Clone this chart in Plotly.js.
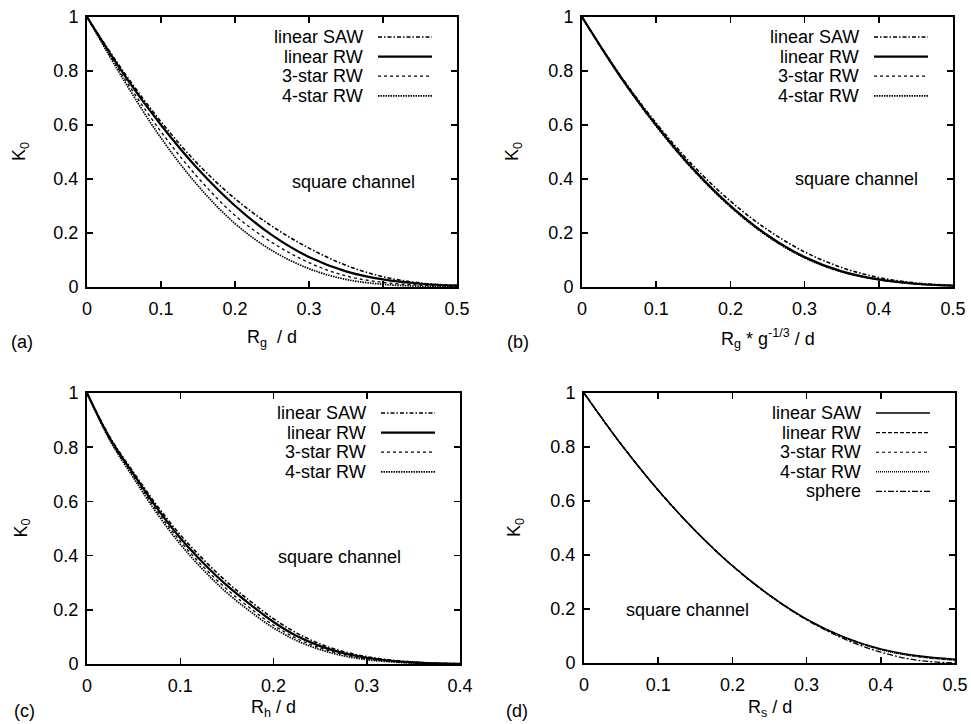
<!DOCTYPE html>
<html>
<head>
<meta charset="utf-8">
<script src="https://cdn.plot.ly/plotly-3.0.1.min.js"></script>
<style>html,body{margin:0;padding:0;background:#fff;}#plot{width:971px;height:724px;}</style>
</head>
<body>
<div id="plot"></div>
<script>
// ---------- data ----------
const seriesNames4 = ["linear SAW", "linear RW", "3-star RW", "4-star RW"];
const seriesNames5 = ["linear SAW", "linear RW", "3-star RW", "4-star RW", "sphere"];

// panel (a): K0 vs Rg/d
const xA = [0, 0.05, 0.1, 0.15, 0.2, 0.25, 0.3, 0.35, 0.4, 0.45, 0.5];
const aSAW   = [1, 0.795, 0.612, 0.455, 0.327, 0.225, 0.144, 0.080, 0.038, 0.015, 0.006];
const aRW    = [1, 0.787, 0.600, 0.437, 0.301, 0.192, 0.111, 0.058, 0.028, 0.012, 0.005];
const a3star = [1, 0.775, 0.575, 0.405, 0.265, 0.165, 0.090, 0.041, 0.017, 0.007, 0.002];
const a4star = [1, 0.765, 0.552, 0.375, 0.235, 0.135, 0.068, 0.028, 0.010, 0.003, 0.001];

// panel (b): K0 vs Rg*g^-1/3/d
const xB = [0, 0.05, 0.1, 0.15, 0.2, 0.25, 0.3, 0.35, 0.4, 0.45, 0.5];
const bSAW   = [1, 0.790, 0.607, 0.449, 0.318, 0.212, 0.130, 0.072, 0.035, 0.015, 0.006];
const bRW    = [1, 0.787, 0.600, 0.437, 0.301, 0.192, 0.111, 0.058, 0.028, 0.012, 0.005];
const b3star = [1, 0.785, 0.597, 0.434, 0.298, 0.189, 0.109, 0.057, 0.027, 0.012, 0.005];
const b4star = [1, 0.784, 0.596, 0.433, 0.297, 0.188, 0.108, 0.056, 0.027, 0.011, 0.004];

// panel (c): K0 vs Rh/d
const xC = [0, 0.025, 0.05, 0.075, 0.1, 0.125, 0.15, 0.175, 0.2, 0.225, 0.25, 0.275, 0.3, 0.325, 0.35, 0.375, 0.4];
const cSAW   = [1, 0.835, 0.707, 0.585, 0.477, 0.385, 0.303, 0.232, 0.167, 0.114, 0.074, 0.046, 0.027, 0.015, 0.007, 0.003, 0.001];
const cRW    = [1, 0.830, 0.700, 0.575, 0.465, 0.372, 0.290, 0.220, 0.155, 0.103, 0.066, 0.040, 0.023, 0.012, 0.006, 0.002, 0.001];
const c3star = [1, 0.826, 0.693, 0.565, 0.453, 0.358, 0.276, 0.206, 0.143, 0.094, 0.059, 0.035, 0.019, 0.010, 0.004, 0.002, 0.001];
const c4star = [1, 0.822, 0.686, 0.556, 0.442, 0.346, 0.263, 0.194, 0.133, 0.086, 0.053, 0.030, 0.016, 0.008, 0.003, 0.001, 0.0005];

// panel (d): K0 vs Rs/d
const xD = [0, 0.05, 0.1, 0.15, 0.2, 0.25, 0.3, 0.35, 0.4, 0.45, 0.5];
const dSAW    = [1, 0.810, 0.640, 0.490, 0.360, 0.252, 0.163, 0.097, 0.052, 0.027, 0.014];
const dRW     = [1, 0.810, 0.640, 0.490, 0.360, 0.251, 0.162, 0.096, 0.051, 0.025, 0.012];
const d3star  = [1, 0.810, 0.640, 0.490, 0.360, 0.251, 0.162, 0.095, 0.050, 0.024, 0.011];
const d4star  = [1, 0.810, 0.640, 0.490, 0.360, 0.250, 0.161, 0.094, 0.049, 0.023, 0.010];
const dSphere = [1, 0.810, 0.640, 0.490, 0.360, 0.250, 0.160, 0.090, 0.040, 0.010, 0.000];

const xTitles = ["R<sub>g</sub>  / d", "R<sub>g</sub> * g<sup>-1/3</sup> / d", "R<sub>h</sub> / d", "R<sub>s</sub> / d"];
const panelLabels = ["(a)", "(b)", "(c)", "(d)"];
const yTitle = "K<sub>0</sub>";
const noteText = "square channel";

// ---------- layout helpers ----------
const W = 971, H = 724;
const fx = p => p / W;
const fy = p => 1 - p / H;
const FONT = "Liberation Sans, Arial, Helvetica, sans-serif";
const FS = 18;

const panels = [
  {l: 87,  r: 457, t: 17,  b: 287, xr: [0, 0.5], note: [0.36, 0.39], ytx: 20,  lab: [22, 342],  xt: 338},
  {l: 582, r: 953, t: 17,  b: 287, xr: [0, 0.5], note: [0.37, 0.40], ytx: 513, lab: [518, 342], xt: 338},
  {l: 87,  r: 460, t: 393, b: 664, xr: [0, 0.4], note: [0.271, 0.395], ytx: 22, lab: [24, 711], xt: 708},
  {l: 584, r: 955, t: 393, b: 663, xr: [0, 0.5], note: [0.14, 0.196], ytx: 515, lab: [517, 711], xt: 708}
];

const styleABC = [
  {dash: "4px,2px,1.5px,2px", width: 1.6},
  {dash: "solid", width: 2.2},
  {dash: "3px,3px", width: 1.3},
  {dash: "1.5px,1px", width: 1.7}
];
const styleD = [
  {dash: "solid", width: 1.4},
  {dash: "4px,2px", width: 1.3},
  {dash: "3px,3px", width: 1.1},
  {dash: "1px,1px", width: 1.4},
  {dash: "6px,2px,2px,2px", width: 1.3}
];

const panelData = [
  {x: xA, ys: [aSAW, aRW, a3star, a4star], names: seriesNames4, st: styleABC},
  {x: xB, ys: [bSAW, bRW, b3star, b4star], names: seriesNames4, st: styleABC},
  {x: xC, ys: [cSAW, cRW, c3star, c4star], names: seriesNames4, st: styleABC},
  {x: xD, ys: [dSAW, dRW, d3star, d4star, dSphere], names: seriesNames5, st: styleD}
];

const traces = [];
const annotations = [];
const shapes = [];
const layout = {
  width: W, height: H,
  margin: {l: 0, r: 0, t: 0, b: 0},
  paper_bgcolor: "#fff", plot_bgcolor: "#fff",
  showlegend: false,
  font: {family: FONT, size: FS, color: "#000"}
};

panels.forEach((p, i) => {
  const n = i === 0 ? "" : String(i + 1);
  const xa = "xaxis" + n, ya = "yaxis" + n;
  const common = {
    showline: true, linecolor: "#000", linewidth: 2, mirror: "ticks",
    ticks: "inside", ticklen: 6, tickwidth: 1.5, tickcolor: "#000",
    showgrid: false, zeroline: false, fixedrange: true,
    tickfont: {family: FONT, size: FS, color: "#000"}
  };
  layout[xa] = Object.assign({}, common, {
    domain: [fx(p.l), fx(p.r)], range: p.xr, dtick: 0.1, tick0: 0,
    anchor: "y" + n, ticklabelstandoff: 4
  });
  layout[ya] = Object.assign({}, common, {
    domain: [fy(p.b), fy(p.t)], range: [0, 1], dtick: 0.2, tick0: 0,
    anchor: "x" + n, ticklabelstandoff: 3
  });

  const pd = panelData[i];
  pd.ys.forEach((yy, k) => {
    traces.push({
      type: "scatter", mode: "lines", x: pd.x, y: yy, name: pd.names[k],
      xaxis: "x" + n, yaxis: "y" + n,
      line: {color: "#000", width: pd.st[k].width, dash: pd.st[k].dash, shape: "spline", smoothing: 1},
      hoverinfo: "skip"
    });
    // legend entry (gnuplot style: text then sample)
    const rowY = p.t + 20 + k * 19.6;
    annotations.push({
      xref: "paper", yref: "paper", x: fx(p.r - 92), y: fy(rowY),
      xanchor: "right", yanchor: "middle", showarrow: false,
      text: pd.names[k], font: {family: FONT, size: FS, color: "#000"}
    });
    shapes.push({
      type: "line", xref: "paper", yref: "paper",
      x0: fx(p.r - 79), x1: fx(p.r - 25), y0: fy(rowY), y1: fy(rowY),
      line: {color: "#000", width: pd.st[k].width, dash: pd.st[k].dash}
    });
  });

  // note text
  annotations.push({
    xref: "x" + n, yref: "y" + n, x: p.note[0], y: p.note[1],
    xanchor: "center", yanchor: "middle", showarrow: false,
    text: noteText, font: {family: FONT, size: FS, color: "#000"}
  });
  // y title
  annotations.push({
    xref: "paper", yref: "paper", x: fx(p.ytx), y: fy((p.t + p.b) / 2),
    xanchor: "center", yanchor: "middle", showarrow: false, textangle: -90,
    text: yTitle, font: {family: FONT, size: FS, color: "#000"}
  });
  // x title
  annotations.push({
    xref: "paper", yref: "paper", x: fx((p.l + p.r) / 2), y: fy(p.xt),
    xanchor: "center", yanchor: "middle", showarrow: false,
    text: xTitles[i], font: {family: FONT, size: FS, color: "#000"}
  });
  // panel label
  annotations.push({
    xref: "paper", yref: "paper", x: fx(p.lab[0]), y: fy(p.lab[1]),
    xanchor: "center", yanchor: "middle", showarrow: false,
    text: panelLabels[i], font: {family: FONT, size: FS, color: "#000"}
  });
});

layout.annotations = annotations;
layout.shapes = shapes;

Plotly.newPlot("plot", traces, layout, {staticPlot: true, displayModeBar: false});
</script>
</body>
</html>
